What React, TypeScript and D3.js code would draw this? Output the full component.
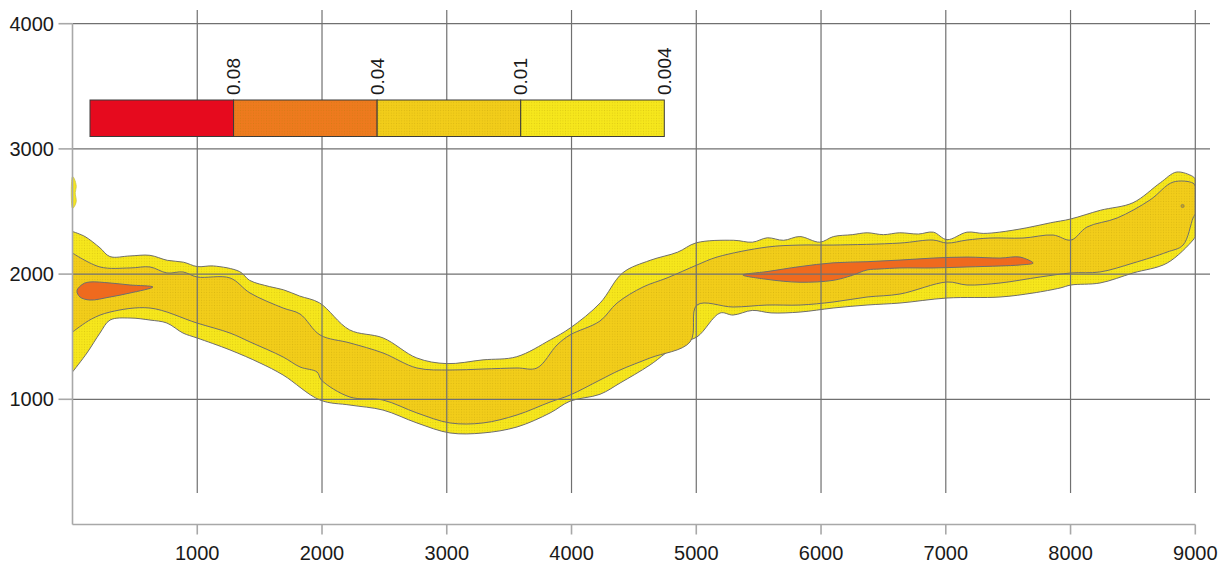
import React from "react";
import * as d3 from "d3";

type Pt = [number, number];

const xTicks = [1000, 2000, 3000, 4000, 5000, 6000, 7000, 8000, 9000];
const yTicks = [1000, 2000, 3000, 4000];
const legendLevels = ["0.08", "0.04", "0.01", "0.004"];
const legendColors = ["#E60A1E", "#EE7A1E", "#F2CD1A", "#F6E71C"];

// outer contour (0.004) – upper and lower edges
const outerUpper: Pt[] = [
  [0, 2340], [100, 2300], [220, 2210], [300, 2140], [460, 2145], [620, 2150], [760, 2110],
  [890, 2095], [1000, 2060], [1130, 2065], [1340, 2020], [1420, 1950], [1580, 1900],
  [1690, 1875], [1820, 1825], [1980, 1770], [2220, 1555], [2490, 1490], [2760, 1330],
  [3000, 1285], [3290, 1315], [3560, 1340], [3830, 1475], [3990, 1570], [4230, 1770],
  [4410, 2010], [4630, 2110], [4850, 2175], [5000, 2250], [5300, 2270], [5450, 2255],
  [5570, 2290], [5700, 2270], [5830, 2300], [5990, 2255], [6100, 2300], [6250, 2315],
  [6370, 2330], [6500, 2315], [6630, 2330], [6780, 2320], [6900, 2335], [7010, 2275],
  [7170, 2335], [7300, 2325], [7430, 2335], [7650, 2370], [7840, 2410], [8000, 2440],
  [8240, 2510], [8500, 2570], [8720, 2730], [8850, 2815], [8980, 2780], [9000, 2760],
];
const outerLower: Pt[] = [
  [0, 1218], [116, 1370], [220, 1529], [301, 1633], [461, 1649], [621, 1633], [757, 1609],
  [886, 1529], [998, 1490], [1263, 1394], [1503, 1290], [1688, 1194], [1984, 994],
  [2224, 954], [2489, 914], [2761, 811], [3026, 731], [3290, 731], [3563, 779],
  [3828, 891], [3988, 985], [4228, 1040], [4389, 1130], [4629, 1274], [4870, 1450],
  [5006, 1498], [5190, 1689], [5295, 1673], [5450, 1710], [5600, 1690], [5832, 1697],
  [6097, 1729], [6369, 1753], [6633, 1769], [7010, 1809], [7435, 1817], [7700, 1849],
  [7916, 1889], [8004, 1913], [8236, 1929], [8501, 2009], [8774, 2088], [8982, 2272],
  [9000, 2300],
];

// middle contour (0.01)
const innerUpper: Pt[] = [
  [0, 2168], [220, 2057], [461, 2049], [621, 2057], [757, 2009], [886, 2017], [998, 1977],
  [1263, 1969], [1423, 1849], [1688, 1729], [1824, 1681], [1984, 1514], [2224, 1450],
  [2489, 1370], [2761, 1250], [3026, 1234], [3290, 1242], [3563, 1250], [3723, 1250],
  [3884, 1434], [3988, 1514], [4228, 1625], [4365, 1769], [4573, 1897], [4765, 1969],
  [5006, 2073], [5166, 2136], [5567, 2216], [5832, 2232], [6097, 2232], [6633, 2248],
  [6898, 2272], [7010, 2248], [7170, 2272], [7354, 2288], [7619, 2288], [7860, 2312],
  [8004, 2272], [8132, 2376], [8373, 2448], [8637, 2592], [8822, 2735], [8982, 2727],
  [9000, 2700],
];
const innerLower: Pt[] = [
  [0, 1537], [150, 1640], [301, 1697], [621, 1729], [998, 1609], [1263, 1529], [1423, 1458],
  [1688, 1338], [1824, 1258], [1960, 1218], [1995, 1154], [2224, 1018], [2489, 994],
  [2761, 891], [3026, 811], [3290, 811], [3563, 875], [3828, 978], [3988, 1034],
  [4228, 1154], [4389, 1234], [4629, 1330], [4950, 1458], [5006, 1753], [5295, 1737],
  [5567, 1753], [5832, 1753], [6097, 1777], [6369, 1817], [6633, 1841], [7010, 1937],
  [7170, 1913], [7435, 1929], [7756, 1977], [8004, 2009], [8236, 2017], [8501, 2088],
  [8774, 2176], [8902, 2232], [8982, 2448], [9000, 2480],
];

// highest-density cores (orange)
const coreLeft: Pt[] = [
  [36, 1868], [84, 1921], [140, 1937], [301, 1929], [461, 1913], [645, 1897],
  [461, 1849], [301, 1817], [140, 1793], [60, 1817],
];
const coreRight: Pt[] = [
  [5374, 1993], [5567, 2020], [5832, 2060], [6097, 2090], [6369, 2099], [6633, 2112],
  [6898, 2128], [7170, 2136], [7435, 2128], [7595, 2136], [7700, 2088], [7595, 2073],
  [7435, 2065], [7170, 2057], [6898, 2049], [6633, 2049], [6473, 2041], [6369, 2033],
  [6250, 1990], [6097, 1950], [5832, 1935], [5567, 1958],
];
const edgeFleck: Pt[] = [
  [0, 2780], [15, 2760], [30, 2700], [22, 2650], [30, 2580], [15, 2540], [0, 2525],
];
const peakDot: Pt[] = [[8898, 2544]];

const W = 1227;
const H = 563;
const FONT = "'Liberation Sans', Arial, Helvetica, sans-serif";

export default function App() {
  const x = d3.scaleLinear().domain([0, 9000]).range([72.5, 1195.3]);
  const y = d3.scaleLinear().domain([0, 4000]).range([524.5, 23.7]);

  const open = d3
    .line<Pt>()
    .x((d) => x(d[0]))
    .y((d) => y(d[1]))
    .curve(d3.curveCatmullRom.alpha(0.5));
  const closed = d3
    .line<Pt>()
    .x((d) => x(d[0]))
    .y((d) => y(d[1]))
    .curve(d3.curveCatmullRomClosed.alpha(0.5));

  const band = (up: Pt[], lo: Pt[]) =>
    (open(up) || "") + (open([...lo].reverse()) || "").replace(/^M/, "L") + "Z";

  const outline = "#6e6e6e";
  const gridC = "#707070";
  const axisC = "#a8a8a8";

  const legX0 = 90;
  const legW = 574.3;
  const legY = 100;
  const legH = 36.5;
  const segW = legW / legendLevels.length;

  return (
    <svg
      width={W}
      height={H}
      viewBox={`0 0 ${W} ${H}`}
      style={{ position: "absolute", left: 0, top: 0, background: "#fff" }}
    >
      <defs>
        <pattern id="dots" width="2.6" height="2.6" patternUnits="userSpaceOnUse">
          <circle cx="1.3" cy="1.3" r="0.55" fill="#9a7a00" opacity="0.25" />
        </pattern>
      </defs>

      {/* density bands */}
      <g>
        <path d={band(outerUpper, outerLower)} fill={legendColors[3]} stroke={outline} strokeWidth={1} />
        <path d={band(outerUpper, outerLower)} fill="url(#dots)" />
        <path d={closed(edgeFleck) || ""} fill={legendColors[3]} stroke="#c9c24a" strokeWidth={0.8} />
        <path d={band(innerUpper, innerLower)} fill={legendColors[2]} stroke={outline} strokeWidth={1} />
        <path d={band(innerUpper, innerLower)} fill="url(#dots)" />
        <path d={closed(coreLeft) || ""} fill="#EF6A1E" stroke={outline} strokeWidth={1} />
        <path d={closed(coreRight) || ""} fill="#EF6A1E" stroke={outline} strokeWidth={1} />
        {peakDot.map((d, i) => (
          <circle key={i} cx={x(d[0])} cy={y(d[1])} r={1.6} fill="#c9a21a" stroke={outline} strokeWidth={0.6} />
        ))}
      </g>

      {/* grid */}
      <g>
        {xTicks.map((t) => (
          <line key={"vx" + t} x1={x(t)} x2={x(t)} y1={10} y2={493} stroke={gridC} strokeWidth={1.2} />
        ))}
        {yTicks.map((t) => (
          <line key={"hy" + t} x1={x(0)} x2={1210} y1={y(t)} y2={y(t)} stroke={gridC} strokeWidth={1.2} />
        ))}
      </g>

      {/* axes */}
      <g stroke={axisC} strokeWidth={1.6}>
        <line x1={x(0)} x2={x(0)} y1={y(4000)} y2={y(0)} />
        <line x1={x(0)} x2={x(9000)} y1={y(0)} y2={y(0)} />
        {xTicks.map((t) => (
          <line key={"tx" + t} x1={x(t)} x2={x(t)} y1={y(0)} y2={y(0) + 10} />
        ))}
        {yTicks.map((t) => (
          <line key={"ty" + t} x1={x(0) - 14} x2={x(0)} y1={y(t)} y2={y(t)} />
        ))}
      </g>
      <g fontFamily={FONT} fontSize={20} fill="#1a1a1a">
        {xTicks.map((t) => (
          <text key={"lx" + t} x={x(t)} y={560} textAnchor="middle">
            {t}
          </text>
        ))}
        {yTicks.map((t) => (
          <text key={"ly" + t} x={54} y={y(t)} textAnchor="end" dominantBaseline="central">
            {t}
          </text>
        ))}
      </g>

      {/* legend */}
      <g>
        {legendLevels.map((lab, i) => (
          <g key={"lg" + i}>
            <rect
              x={legX0 + i * segW}
              y={legY}
              width={segW}
              height={legH}
              fill={legendColors[i]}
              stroke="#3a3a3a"
              strokeWidth={1}
            />
            {i > 0 && (
              <rect x={legX0 + i * segW} y={legY} width={segW} height={legH} fill="url(#dots)" />
            )}
            <text
              transform={`translate(${legX0 + (i + 1) * segW},${legY - 5}) rotate(-90)`}
              fontFamily={FONT}
              fontSize={19}
              fill="#1a1a1a"
              dominantBaseline="central"
              textAnchor="start"
            >
              {lab}
            </text>
          </g>
        ))}
      </g>
    </svg>
  );
}
